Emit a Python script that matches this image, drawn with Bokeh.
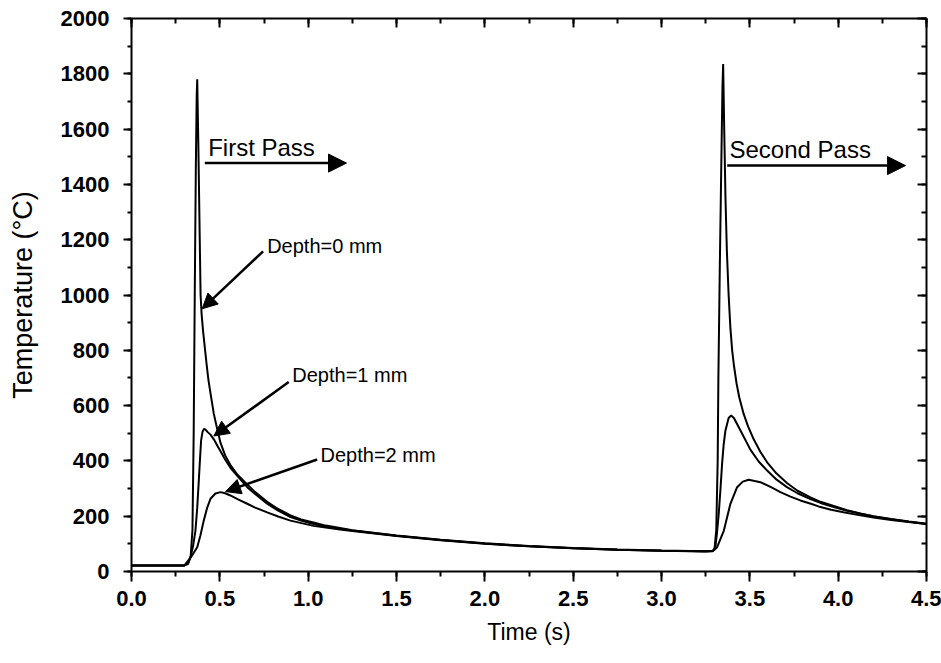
from bokeh.plotting import figure
from bokeh.models import (Range1d, LinearAxis, SingleIntervalTicker, NumeralTickFormatter,
                          Arrow, NormalHead, Label)
from bokeh.embed import file_html
from bokeh.resources import INLINE

# ---- data ----
t_d0 = [0.0, 0.30, 0.32, 0.335, 0.345, 0.352, 0.358, 0.364, 0.369, 0.372, 0.378, 0.384, 0.391,
        0.397, 0.405, 0.415, 0.425, 0.435, 0.447, 0.466, 0.48, 0.504, 0.53, 0.56, 0.6, 0.655,
        0.7, 0.768, 0.83, 0.9, 0.96, 1.03, 1.1, 1.18, 1.25, 1.5, 1.75, 2.0, 2.25, 2.5, 2.75,
        3.0, 3.25, 3.29, 3.30, 3.31, 3.318, 3.322, 3.33, 3.338, 3.345, 3.349, 3.355, 3.362,
        3.37, 3.38, 3.39, 3.40, 3.41, 3.425, 3.44, 3.465, 3.49, 3.522, 3.56, 3.598, 3.65, 3.71,
        3.77, 3.843, 3.9, 3.975, 4.05, 4.126, 4.2, 4.3, 4.4, 4.5]
T_d0 = [22, 22, 28, 55, 150, 500, 1000, 1450, 1720, 1780, 1560, 1300, 1000,
        930, 870, 810, 750, 695, 645, 570, 530, 465, 420, 385, 350, 315,
        287, 252, 226, 203, 188, 177, 166, 157, 149, 130, 115, 102, 92, 85, 80,
        76, 73, 75, 80, 150, 400, 700, 1100, 1450, 1750, 1835, 1600, 1354,
        1160, 1000, 880, 800, 745, 680, 630, 570, 525, 478, 432, 395, 355, 320,
        292, 268, 252, 237, 222, 210, 200, 190, 181, 173]

t_d1 = [0.0, 0.30, 0.32, 0.334, 0.348, 0.362, 0.372, 0.381, 0.388, 0.394, 0.402, 0.41, 0.418,
        0.43, 0.447, 0.466, 0.49, 0.504, 0.53, 0.56, 0.6, 0.655, 0.7, 0.768, 0.83, 0.9, 0.96,
        1.03, 1.1, 1.18, 1.25, 1.5, 1.75, 2.0, 2.25, 2.5, 2.75, 3.0, 3.25, 3.29, 3.305, 3.314,
        3.324, 3.334, 3.343, 3.352, 3.362, 3.38, 3.394, 3.41, 3.447, 3.504, 3.55, 3.598, 3.65,
        3.71, 3.77, 3.843, 3.9, 3.975, 4.05, 4.126, 4.2, 4.3, 4.4, 4.5]
T_d1 = [22, 22, 28, 52, 90, 148, 230, 329, 410, 474, 505, 516, 514,
        505, 495, 478, 450, 435, 405, 375, 345, 305, 280, 245, 220, 197, 184,
        172, 163, 155, 148, 129, 114, 101, 91, 84, 79, 75, 73, 74, 88, 140,
        209, 300, 390, 460, 510, 555, 564, 555, 510, 440, 398, 365, 333,
        305, 283, 262, 248, 233, 220, 209, 199, 189, 180, 172]

t_d2 = [0.0, 0.30, 0.315, 0.34, 0.372, 0.39, 0.409, 0.428, 0.447, 0.475, 0.504, 0.53, 0.56,
        0.6, 0.655, 0.7, 0.768, 0.83, 0.90, 1.03, 1.18, 1.25, 1.5, 1.75, 2.0, 2.25, 2.5, 2.75,
        3.0, 3.25, 3.29, 3.315, 3.353, 3.39, 3.428, 3.46, 3.494, 3.56, 3.62, 3.673, 3.73, 3.786,
        3.85, 3.9, 3.96, 4.03, 4.126, 4.2, 4.3, 4.4, 4.5]
T_d2 = [22, 22, 35, 55, 88, 130, 184, 230, 263, 282, 287, 283, 275,
        262, 245, 231, 214, 199, 184, 165, 152, 146, 128, 113, 100, 91, 84, 79,
        75, 72, 73, 88, 148, 245, 305, 325, 332, 323, 305, 287, 271, 257,
        244, 233, 223, 214, 203, 195, 186, 179, 172]

# annotations: label texts and anchor points (data units)
depth_labels = ["Depth=0 mm", "Depth=1 mm", "Depth=2 mm"]
depth_label_x = [0.768, 0.910, 1.070]
depth_label_y = [1176, 710, 421]
depth_arrow_x0 = [0.745, 0.890, 1.051]
depth_arrow_y0 = [1158, 685, 405]
depth_arrow_x1 = [0.400, 0.466, 0.532]
depth_arrow_y1 = [950, 490, 289]

pass_labels = ["First Pass", "Second Pass"]
pass_label_x = [0.434, 3.385]
pass_label_y = [1533, 1527]
pass_arrow_x0 = [0.415, 3.372]
pass_arrow_x1 = [1.217, 4.381]
pass_arrow_y = [1477, 1468]

FONT = "Liberation Sans"

p = figure(width=941, height=663, x_range=Range1d(0, 4.5), y_range=Range1d(0, 2000),
           output_backend="svg", toolbar_location=None,
           min_border_left=131, min_border_right=15, min_border_top=18, min_border_bottom=92)
p.grid.visible = False
p.outline_line_color = None
p.background_fill_color = "white"
p.border_fill_color = "white"

for t, T in [(t_d0, T_d0), (t_d1, T_d1), (t_d2, T_d2)]:
    p.line(t, T, line_color="black", line_width=2)

xa = p.xaxis[0]
xa.ticker = SingleIntervalTicker(interval=0.5, num_minor_ticks=2)
xa.formatter = NumeralTickFormatter(format="0.0")
xa.axis_label = "Time (s)"
ya = p.yaxis[0]
ya.ticker = SingleIntervalTicker(interval=200, num_minor_ticks=2)
ya.axis_label = "Temperature (°C)"

for ax in (xa, ya):
    ax.axis_line_width = 2
    ax.axis_line_color = "black"
    ax.major_tick_line_width = 2
    ax.minor_tick_line_width = 2
    ax.major_tick_in = 0
    ax.minor_tick_in = 0
    ax.major_label_text_font = FONT
    ax.major_label_text_font_style = "bold"
    ax.major_label_text_font_size = "22px"
    ax.major_label_text_color = "black"
    ax.axis_label_text_font = FONT
    ax.axis_label_text_font_style = "normal"
    ax.axis_label_text_color = "black"

xa.major_tick_out = 10
xa.minor_tick_out = 5
xa.major_label_standoff = 9
xa.axis_label_standoff = 10
xa.axis_label_text_font_size = "23px"

ya.major_tick_out = 8
ya.minor_tick_out = 4
ya.major_label_standoff = 14
ya.axis_label_standoff = 20
ya.axis_label_text_font_size = "27px"

top = LinearAxis(ticker=SingleIntervalTicker(interval=0.5, num_minor_ticks=2))
right = LinearAxis(ticker=SingleIntervalTicker(interval=200, num_minor_ticks=2))
for ax in (top, right):
    ax.axis_line_width = 2
    ax.major_tick_line_width = 2
    ax.minor_tick_line_width = 2
    ax.major_tick_out = 0
    ax.minor_tick_out = 0
    ax.major_tick_in = 9
    ax.minor_tick_in = 5
    ax.major_label_text_font_size = "0px"
    ax.major_label_text_color = None
    ax.major_label_standoff = 0
p.add_layout(top, "above")
p.add_layout(right, "right")

for i in range(3):
    p.add_layout(Arrow(end=NormalHead(size=15, fill_color="black", line_color="black"),
                       x_start=depth_arrow_x0[i], y_start=depth_arrow_y0[i],
                       x_end=depth_arrow_x1[i], y_end=depth_arrow_y1[i],
                       line_width=2.5, line_color="black"))
    p.add_layout(Label(x=depth_label_x[i], y=depth_label_y[i], text=depth_labels[i],
                       text_font=FONT, text_font_size="20px", text_color="black",
                       text_baseline="alphabetic"))

for i in range(2):
    p.add_layout(Arrow(end=NormalHead(size=18, fill_color="black", line_color="black"),
                       x_start=pass_arrow_x0[i], y_start=pass_arrow_y[i],
                       x_end=pass_arrow_x1[i], y_end=pass_arrow_y[i],
                       line_width=2.5, line_color="black"))
    p.add_layout(Label(x=pass_label_x[i], y=pass_label_y[i], text=pass_labels[i],
                       text_font=FONT, text_font_size="24px", text_color="black",
                       text_baseline="alphabetic"))

open("out.html", "w").write(file_html(p, INLINE))
